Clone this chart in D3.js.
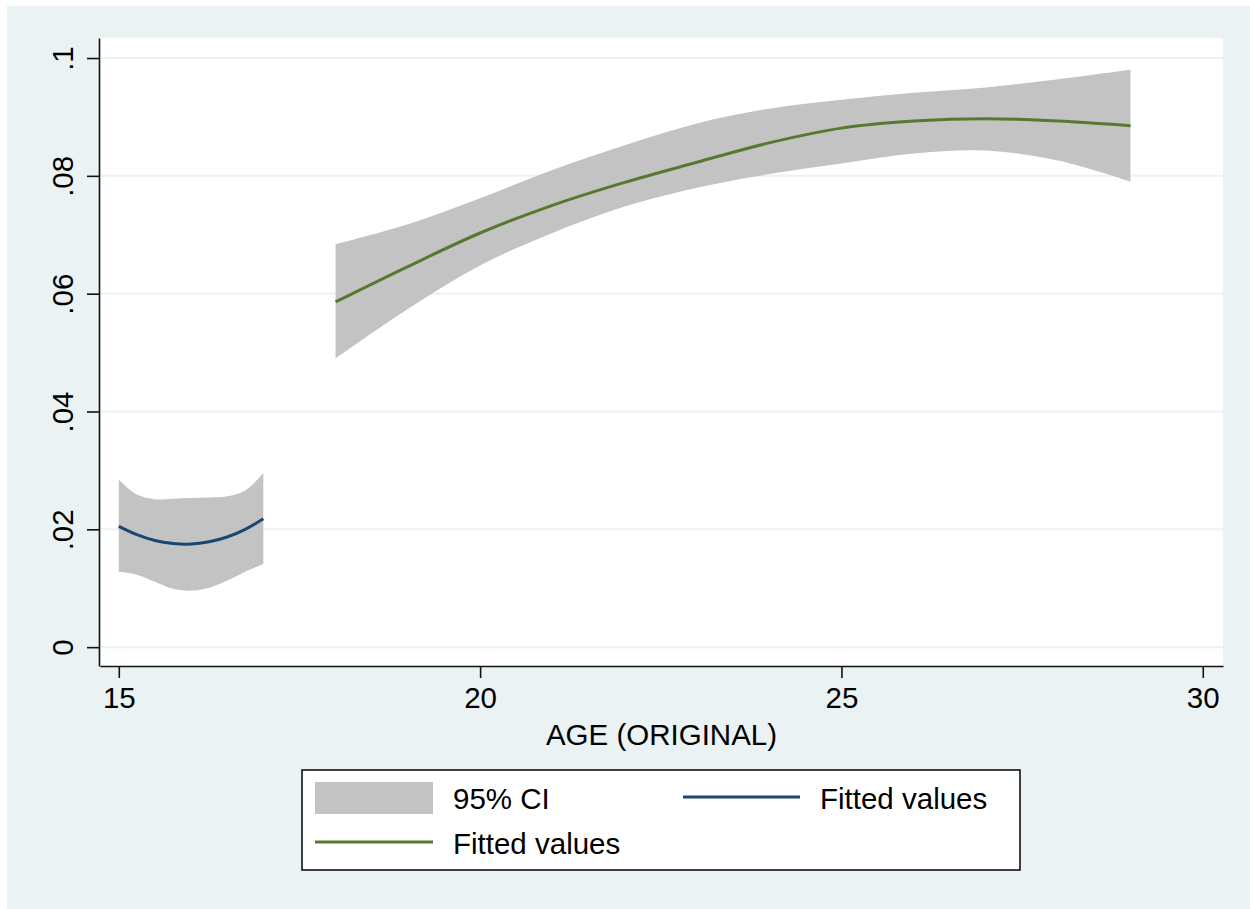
<!DOCTYPE html>
<html>
<head>
<meta charset="utf-8">
<script src="https://cdn.jsdelivr.net/npm/d3@7"></script>
<style>
	body {margin: 0; background: #fff;}
	svg text {font-family: "Liberation Sans", Arial, Helvetica, sans-serif;}
</style>
</head>
<body>
<div id="chart-bg"></div>
<script>
// ages 15 - 17 (first fit)
var agesA = [15, 15.25, 15.5, 15.75, 16, 16.25, 16.5, 16.75, 17];
var fitA = [0.0205, 0.0191, 0.0181, 0.0176, 0.0175, 0.0179, 0.0187, 0.0200, 0.0218];
var loA = [0.0128, 0.0123, 0.0111, 0.0099, 0.0096, 0.0101, 0.0113, 0.0128, 0.0141];
var hiA = [0.0284, 0.0259, 0.0251, 0.0252, 0.0253, 0.0254, 0.0256, 0.0266, 0.0295];

// ages 18 - 29 (second fit)
var agesB = [18, 19, 20, 21, 22, 23, 24, 25, 26, 27, 28, 29];
var fitB = [0.0586, 0.0646, 0.0703, 0.0750, 0.0789, 0.0823, 0.0856, 0.0881, 0.0893, 0.0897, 0.0893, 0.0885];
var loB = [0.0490, 0.0574, 0.0648, 0.0703, 0.0748, 0.0780, 0.0803, 0.0821, 0.0838, 0.0843, 0.0826, 0.0790];
var hiB = [0.0684, 0.0718, 0.0762, 0.0810, 0.0852, 0.0889, 0.0914, 0.0929, 0.0941, 0.0950, 0.0964, 0.0980];

var xTicks = [15, 20, 25, 30];
var yTicks = [0, 0.02, 0.04, 0.06, 0.08, 0.1];
var yTickLabels = ["0", ".02", ".04", ".06", ".08", ".1"];
var xTitle = "AGE (ORIGINAL)";
var legendLabels = ["95% CI", "Fitted values", "Fitted values"];

function drawChart() {
	var W = 1250, H = 909;
	var pLeft = 100, pRight = 1223, pTop = 38, pBottom = 666;
	var bg = "#eaf2f3";
	var bandColor = "#c3c3c3";
	var blue = "#1a476f";
	var green = "#58782f";
	var fs = 29.5;

	var svg = d3.
	select("#chart-bg").
	append("svg").
	attr("width", W).
	attr("height", H);

	svg.append("rect").
	attr("x", 7).attr("y", 6).
	attr("width", W - 7).attr("height", H - 6).
	attr("fill", bg);

	svg.append("rect").
	attr("x", pLeft).attr("y", pTop).
	attr("width", pRight - pLeft).attr("height", pBottom - pTop).
	attr("fill", "#fff");

	var xScale = d3.scaleLinear().domain([14.74, 30.28]).range([pLeft, pRight]);
	var yScale = d3.scaleLinear().domain([-0.0032, 0.1034]).range([pBottom, pTop]);

	// grid lines
	svg.append("g").
	selectAll("line").
	data(yTicks).
	enter().
	append("line").
	attr("x1", pLeft).attr("x2", pRight).
	attr("y1", function (d) {return yScale(d);}).
	attr("y2", function (d) {return yScale(d);}).
	attr("stroke", bg).
	attr("stroke-width", 2);

	function rows(ages, fit, lo, hi) {
		return ages.map(function (a, i) {return {age: a, fit: fit[i], lo: lo[i], hi: hi[i]};});
	}
	var groups = [
		{data: rows(agesA, fitA, loA, hiA), color: blue},
		{data: rows(agesB, fitB, loB, hiB), color: green}];

	var area = d3.area().
	x(function (d) {return xScale(d.age);}).
	y0(function (d) {return yScale(d.lo);}).
	y1(function (d) {return yScale(d.hi);}).
	curve(d3.curveCatmullRom);

	var line = d3.line().
	x(function (d) {return xScale(d.age);}).
	y(function (d) {return yScale(d.fit);}).
	curve(d3.curveCatmullRom);

	groups.forEach(function (g) {
		svg.append("path").attr("d", area(g.data)).attr("fill", bandColor);
	});
	groups.forEach(function (g) {
		svg.append("path").
		attr("d", line(g.data)).
		attr("fill", "none").
		attr("stroke", g.color).
		attr("stroke-width", 3);
	});

	// axes
	var xAxis = d3.axisBottom(xScale).tickValues(xTicks).tickSize(12).tickSizeOuter(0).tickPadding(9).tickFormat(d3.format("d"));
	var yAxis = d3.axisLeft(yScale).tickValues(yTicks).tickSize(12).tickSizeOuter(0).
	tickFormat(function (d, i) {return yTickLabels[i];});

	var gx = svg.append("g").
	attr("transform", "translate(0," + pBottom + ")").
	call(xAxis);

	var gy = svg.append("g").
	attr("transform", "translate(" + (pLeft - 1) + ",0)").
	call(yAxis);

	[gx, gy].forEach(function (g) {
		g.select(".domain").attr("stroke", "#111").attr("stroke-width", 1.6);
		g.selectAll(".tick line").attr("stroke", "#111").attr("stroke-width", 1.6);
		g.selectAll("text").attr("font-size", fs).attr("fill", "#000").
		attr("font-family", "'Liberation Sans', Arial, sans-serif");
	});

	gy.selectAll(".tick text").
	attr("transform", "rotate(-90)").
	attr("x", 0).
	attr("y", -26).
	attr("dy", 0).
	attr("text-anchor", "middle");

	svg.append("text").
	attr("x", (pLeft + pRight) / 2).
	attr("y", 745).
	attr("text-anchor", "middle").
	attr("font-size", fs).
	text(xTitle);

	// legend
	var lg = svg.append("g");
	lg.append("rect").
	attr("x", 302).attr("y", 770).
	attr("width", 718).attr("height", 100).
	attr("fill", "#fff").
	attr("stroke", "#111").
	attr("stroke-width", 1.6);

	lg.append("rect").
	attr("x", 315).attr("y", 782).
	attr("width", 118).attr("height", 32).
	attr("fill", bandColor);

	lg.append("line").
	attr("x1", 683).attr("x2", 800).
	attr("y1", 797).attr("y2", 797).
	attr("stroke", blue).attr("stroke-width", 3);

	lg.append("line").
	attr("x1", 315).attr("x2", 433).
	attr("y1", 842).attr("y2", 842).
	attr("stroke", green).attr("stroke-width", 3);

	var legendPos = [[453, 809], [820, 809], [453, 854]];
	lg.selectAll("text.lab").
	data(legendLabels).
	enter().
	append("text").
	attr("class", "lab").
	attr("x", function (d, i) {return legendPos[i][0];}).
	attr("y", function (d, i) {return legendPos[i][1];}).
	attr("font-size", fs).
	text(function (d) {return d;});
}

drawChart();
</script>
</body>
</html>
